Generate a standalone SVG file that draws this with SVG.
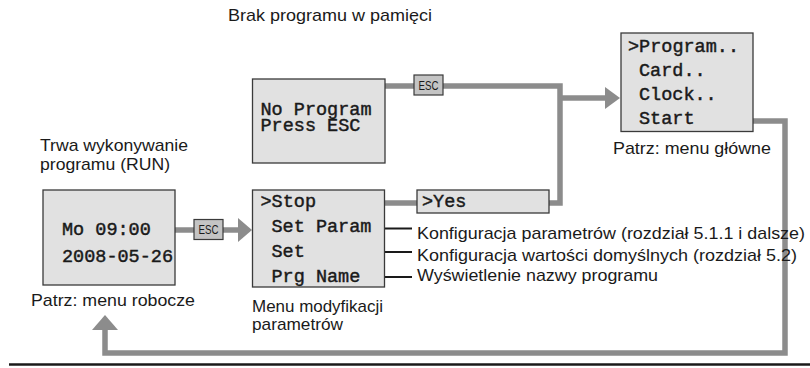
<svg xmlns="http://www.w3.org/2000/svg" width="810" height="368" viewBox="0 0 810 368">
<style>
.box{fill:#e1e1e1;stroke:#3a3a3a;stroke-width:1.3}
.esc{fill:#c4c4c4;stroke:#3a3a3a;stroke-width:1.2}
.mono{font-family:"Liberation Mono","Courier New",monospace;font-size:18.5px;fill:#1a1a1a;stroke:#1a1a1a;stroke-width:0.45}
.sans{font-family:"Liberation Sans",Arial,sans-serif;font-size:17px;fill:#1a1a1a}
.esct{font-family:"Liberation Sans",Arial,sans-serif;font-size:12px;fill:#1a1a1a}
.conn{fill:none;stroke:#8c8c8c;stroke-width:5.5}
.arr{fill:#8c8c8c}
.blk{fill:none;stroke:#1a1a1a;stroke-width:2}
</style>
<rect width="810" height="368" fill="#ffffff"/>
<g id="connectors">
  <path class="conn" d="M385 86 H560 V203 H549"/>
  <path class="conn" d="M560 98 H606"/>
  <polygon class="arr" points="605,87 620,98 605,109"/>
  <path class="conn" d="M175 230 H239"/>
  <polygon class="arr" points="238,218 252,230 238,242"/>
  <path class="conn" d="M329 203 H417" stroke-linecap="round"/>
  <path class="conn" d="M708 121 H785 V353 H105 V329" stroke-linecap="round" stroke-linejoin="miter"/>
  <polygon class="arr" points="92,330 105,315 118,330"/>
  <path class="blk" d="M377 228.5 H412"/>
  <path class="blk" d="M377 252 H412"/>
  <path class="blk" d="M377 277 H412"/>
  <g id="esc1"><rect class="esc" x="194" y="219.5" width="29" height="20"/><text class="esct" x="208.5" y="234" text-anchor="middle" textLength="20" lengthAdjust="spacingAndGlyphs">ESC</text></g>
  <g id="esc2"><rect class="esc" x="414" y="75" width="29" height="20"/><text class="esct" x="428.5" y="89.5" text-anchor="middle" textLength="20" lengthAdjust="spacingAndGlyphs">ESC</text></g>
</g>
<g id="noprogram">
  <rect class="box" x="252.5" y="79" width="132.5" height="84"/>
  <text class="mono" x="260.5" y="115">No Program</text>
  <text class="mono" x="260.5" y="131">Press ESC</text>
</g>
<text class="sans" x="228" y="21" textLength="204" lengthAdjust="spacingAndGlyphs">Brak programu w pamięci</text>
<g id="mainmenu">
  <rect class="box" x="621" y="33" width="132" height="98.5"/>
  <text class="mono" x="628" y="52">&gt;Program..</text>
  <text class="mono" x="639" y="76">Card..</text>
  <text class="mono" x="639" y="100">Clock..</text>
  <text class="mono" x="639" y="124">Start</text>
  <text class="sans" x="613" y="154" textLength="158" lengthAdjust="spacingAndGlyphs">Patrz: menu główne</text>
</g>
<g id="run">
  <text class="sans" x="40" y="151" textLength="148" lengthAdjust="spacingAndGlyphs">Trwa wykonywanie</text>
  <text class="sans" x="40" y="170" textLength="130" lengthAdjust="spacingAndGlyphs">programu (RUN)</text>
  <rect class="box" x="43" y="190" width="132" height="95"/>
  <text class="mono" x="62" y="235">Mo 09:00</text>
  <text class="mono" x="62" y="262">2008-05-26</text>
  <text class="sans" x="31" y="306" textLength="164" lengthAdjust="spacingAndGlyphs">Patrz: menu robocze</text>
</g>
<g id="parammenu">
  <rect class="box" x="252.5" y="190" width="132" height="97"/>
  <text class="mono" x="260.5" y="207">&gt;Stop</text>
  <text class="mono" x="271.5" y="232">Set Param</text>
  <text class="mono" x="271.5" y="257">Set</text>
  <text class="mono" x="271.5" y="282">Prg Name</text>
  <text class="sans" x="252" y="312" textLength="131" lengthAdjust="spacingAndGlyphs">Menu modyfikacji</text>
  <text class="sans" x="252" y="330" textLength="91" lengthAdjust="spacingAndGlyphs">parametrów</text>
</g>
<g id="yes">
  <rect class="box" x="417" y="190" width="132" height="23"/>
  <text class="mono" x="422" y="206.5">&gt;Yes</text>
</g>
<g id="labels">
  <text class="sans" x="417" y="239" textLength="388" lengthAdjust="spacingAndGlyphs">Konfiguracja parametrów (rozdział 5.1.1 i dalsze)</text>
  <text class="sans" x="417" y="260.5" textLength="380" lengthAdjust="spacingAndGlyphs">Konfiguracja wartości domyślnych (rozdział 5.2)</text>
  <text class="sans" x="417" y="281" textLength="241" lengthAdjust="spacingAndGlyphs">Wyświetlenie nazwy programu</text>
</g>
<path d="M9 364.5 H810" stroke="#1a1a1a" stroke-width="2.5"/>
</svg>
